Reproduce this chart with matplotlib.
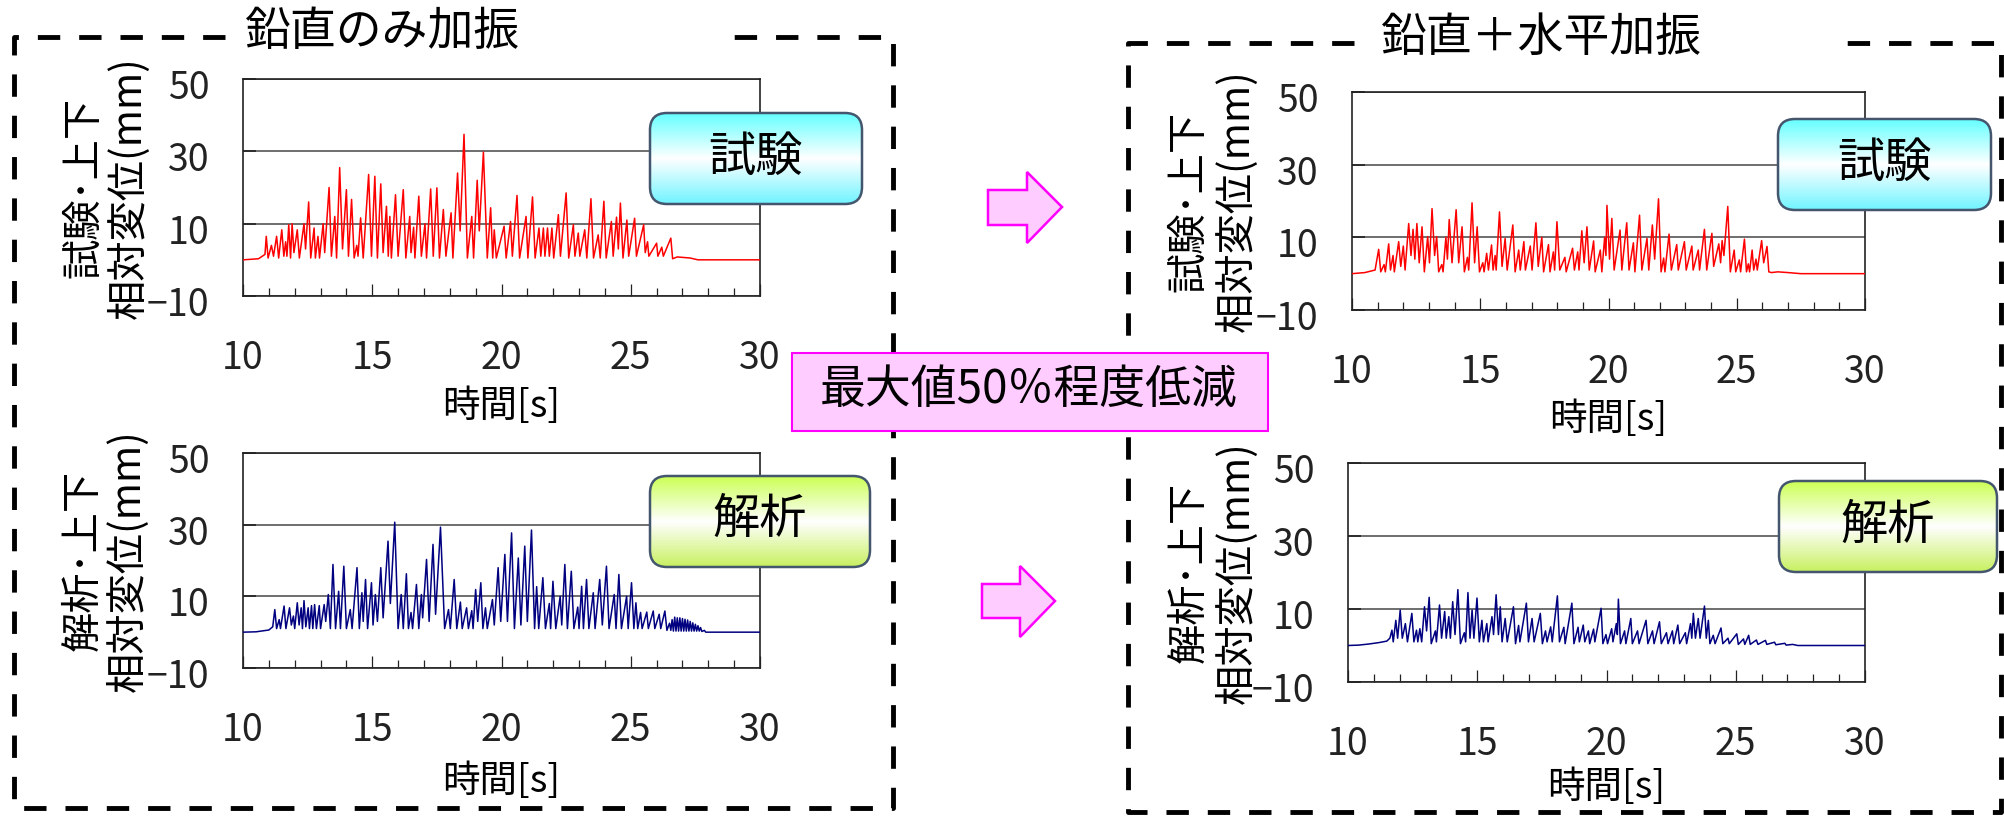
"""
Vertical displacement time histories: vertical-only vs vertical+horizontal
shaking, test (red) and analysis (navy), laid out as a 2x2 slide figure.
"""

import numpy as np
import matplotlib
matplotlib.use("Agg")
import matplotlib.pyplot as plt
import matplotlib.transforms as mtransforms
from matplotlib.patches import FancyBboxPatch, Polygon, Rectangle
from matplotlib.colors import LinearSegmentedColormap

# ── Data (time [s], relative displacement [mm]) ────

lt_trace = [  # test, vertical only
    (10.0, 0.0), (10.6, 0.3), (10.85, 1.5), (10.9, 6.5), (10.97, 0.5), (11.1, 4.0),
    (11.18, 1.0), (11.3, 6.5), (11.38, 0.5), (11.5, 8.3), (11.58, 1.0), (11.65, 5.0),
    (11.7, 1.0), (11.77, 9.7), (11.84, 0.5), (11.9, 10.0), (11.97, 2.0), (12.1, 8.3),
    (12.18, 0.5), (12.36, 10.0), (12.42, 3.0), (12.54, 16.0), (12.62, 0.5), (12.75, 8.8),
    (12.8, 0.5), (12.9, 6.5), (12.96, 0.5), (13.1, 10.0), (13.16, 2.0), (13.33, 20.0),
    (13.42, 1.0), (13.55, 12.0), (13.62, 0.5), (13.74, 25.5), (13.85, 3.0), (14.0, 19.4),
    (14.08, 1.0), (14.2, 16.7), (14.3, 0.5), (14.4, 4.0), (14.45, 1.0), (14.55, 11.6),
    (14.65, 0.5), (14.86, 23.6), (14.97, 1.0), (15.1, 23.1), (15.2, 0.5), (15.33, 21.0),
    (15.42, 2.0), (15.55, 14.8), (15.62, 1.0), (15.68, 12.0), (15.74, 0.5), (15.9, 18.0),
    (16.0, 1.0), (16.2, 19.4), (16.3, 0.5), (16.45, 12.0), (16.5, 2.0), (16.6, 9.0),
    (16.65, 0.5), (16.8, 17.6), (16.9, 1.0), (17.04, 10.0), (17.1, 0.5), (17.26, 19.6),
    (17.36, 1.0), (17.5, 19.9), (17.6, 0.5), (17.75, 13.9), (17.85, 1.0), (18.05, 13.0),
    (18.12, 0.5), (18.3, 24.0), (18.4, 8.0), (18.55, 34.7), (18.68, 0.5), (18.85, 12.0),
    (18.92, 0.5), (19.06, 22.0), (19.14, 8.0), (19.3, 29.8), (19.45, 0.5), (19.58, 14.4),
    (19.66, 0.5), (19.72, 8.3), (19.8, 0.5), (20.1, 9.3), (20.18, 0.5), (20.35, 10.6),
    (20.42, 1.0), (20.6, 17.8), (20.7, 0.5), (20.95, 12.0), (21.02, 0.5), (21.2, 17.4),
    (21.3, 0.5), (21.45, 8.8), (21.52, 1.0), (21.62, 8.8), (21.68, 1.0), (21.78, 8.8),
    (21.85, 1.0), (21.95, 8.8), (22.02, 0.5), (22.2, 12.5), (22.28, 1.0), (22.5, 18.5),
    (22.6, 0.5), (22.78, 9.7), (22.84, 1.0), (22.97, 7.4), (23.03, 1.0), (23.22, 8.3),
    (23.3, 0.5), (23.46, 16.9), (23.56, 0.5), (23.74, 6.9), (23.82, 0.5), (23.96, 16.2),
    (24.05, 0.5), (24.25, 10.6), (24.32, 1.0), (24.45, 11.8), (24.52, 3.0), (24.6, 15.7),
    (24.7, 0.5), (24.85, 11.0), (24.92, 1.0), (25.15, 11.5), (25.22, 1.0), (25.5, 9.7),
    (25.56, 2.0), (25.65, 5.0), (25.7, 1.0), (26.0, 4.6), (26.05, 1.0), (26.2, 3.5),
    (26.26, 1.0), (26.55, 6.0), (26.62, 0.3), (26.8, 0.8), (27.3, 0.5), (27.6, 0.0),
    (30.0, 0.0),
]

lb_trace = [  # analysis, vertical only
    (10.0, 0.0), (10.5, 0.1), (11.0, 0.6), (11.15, 1.5), (11.23, 6.3), (11.3, 1.0),
    (11.4, 3.5), (11.45, 1.0), (11.59, 7.3), (11.66, 1.0), (11.8, 6.8), (11.87, 2.0),
    (11.95, 4.5), (12.0, 1.0), (12.1, 8.2), (12.17, 2.0), (12.25, 6.8), (12.3, 1.0),
    (12.36, 8.8), (12.43, 1.5), (12.52, 6.8), (12.57, 1.0), (12.65, 7.4), (12.7, 1.0),
    (12.77, 7.7), (12.84, 1.0), (12.95, 7.4), (13.0, 1.0), (13.14, 7.7), (13.2, 3.0),
    (13.3, 10.5), (13.38, 1.0), (13.48, 18.9), (13.58, 1.0), (13.7, 11.4), (13.77, 1.0),
    (13.9, 18.4), (14.0, 1.0), (14.15, 6.3), (14.22, 1.0), (14.41, 18.0), (14.5, 1.0),
    (14.6, 11.0), (14.65, 3.0), (14.74, 14.7), (14.82, 1.0), (14.97, 13.8), (15.03, 2.0),
    (15.12, 10.5), (15.2, 3.0), (15.33, 18.0), (15.42, 4.0), (15.61, 25.4), (15.7, 8.0),
    (15.87, 30.7), (16.0, 1.0), (16.12, 10.5), (16.2, 1.0), (16.32, 16.3), (16.4, 1.0),
    (16.5, 5.5), (16.56, 1.0), (16.71, 13.3), (16.8, 1.0), (16.9, 10.5), (16.95, 4.0),
    (17.1, 20.3), (17.2, 3.0), (17.35, 24.5), (17.45, 5.0), (17.64, 29.3), (17.8, 1.0),
    (17.95, 6.3), (18.02, 1.0), (18.17, 14.7), (18.27, 1.0), (18.41, 8.4), (18.48, 1.0),
    (18.65, 6.8), (18.72, 1.0), (18.85, 6.0), (18.9, 1.0), (19.0, 11.9), (19.08, 3.0),
    (19.2, 13.8), (19.28, 1.0), (19.38, 6.8), (19.45, 1.0), (19.65, 9.1), (19.72, 2.0),
    (19.87, 18.0), (19.97, 3.0), (20.13, 21.7), (20.23, 3.0), (20.39, 27.7), (20.5, 1.0),
    (20.65, 20.7), (20.75, 2.0), (20.9, 24.0), (21.0, 3.0), (21.16, 28.5), (21.28, 1.0),
    (21.36, 12.7), (21.44, 1.0), (21.6, 15.2), (21.7, 1.0), (21.85, 8.0), (21.9, 1.0),
    (21.99, 14.2), (22.1, 1.0), (22.27, 10.0), (22.33, 2.0), (22.45, 18.9), (22.55, 1.0),
    (22.7, 17.0), (22.8, 1.0), (22.95, 7.0), (23.0, 1.0), (23.1, 12.8), (23.17, 1.0),
    (23.29, 14.7), (23.38, 1.0), (23.55, 11.0), (23.62, 1.0), (23.8, 14.7), (23.9, 2.0),
    (24.06, 18.4), (24.16, 1.0), (24.36, 10.5), (24.43, 1.0), (24.54, 16.1), (24.64, 1.0),
    (24.84, 10.0), (24.9, 1.0), (25.03, 13.8), (25.12, 1.0), (25.2, 8.2), (25.27, 1.0),
    (25.38, 5.5), (25.44, 1.0), (25.62, 5.6), (25.68, 1.0), (25.87, 5.9), (25.93, 1.0),
    (26.1, 5.0), (26.16, 1.0), (26.32, 5.9), (26.4, 0.5), (26.5, 2.5), (26.55, 0.5),
    (26.6, 3.5), (26.65, 0.3), (26.7, 4.2), (26.75, 0.3), (26.8, 4.0), (26.85, 0.3),
    (26.9, 4.0), (26.95, 0.3), (27.0, 3.8), (27.05, 0.3), (27.1, 3.6), (27.15, 0.3),
    (27.2, 3.4), (27.25, 0.3), (27.3, 3.0), (27.35, 0.3), (27.4, 2.6), (27.45, 0.3),
    (27.5, 2.2), (27.55, 0.3), (27.6, 1.8), (27.65, 0.3), (27.7, 1.3), (27.75, 0.2),
    (27.85, 0.5), (27.9, 0.0), (30.0, 0.0),
]

rt_trace = [  # test, vertical + horizontal
    (10.0, 0.0), (10.5, 0.3), (10.9, 1.0), (11.04, 6.7), (11.12, 0.5), (11.25, 2.5),
    (11.3, 0.5), (11.43, 8.2), (11.5, 1.0), (11.6, 5.0), (11.65, 0.5), (11.82, 8.8),
    (11.9, 2.0), (12.0, 7.6), (12.07, 1.0), (12.21, 13.8), (12.3, 5.0), (12.38, 12.2),
    (12.45, 4.0), (12.53, 13.8), (12.62, 3.0), (12.73, 12.9), (12.82, 0.5), (12.95, 10.2),
    (13.02, 3.0), (13.12, 17.9), (13.22, 5.0), (13.3, 10.2), (13.38, 0.5), (13.5, 2.5),
    (13.55, 0.5), (13.66, 10.0), (13.72, 4.0), (13.79, 14.9), (13.9, 3.0), (14.06, 17.6),
    (14.16, 3.0), (14.29, 12.9), (14.38, 0.5), (14.5, 4.5), (14.55, 1.0), (14.68, 19.5),
    (14.78, 3.0), (14.88, 12.9), (14.97, 0.5), (15.1, 3.0), (15.15, 0.5), (15.25, 5.6),
    (15.32, 1.0), (15.44, 7.9), (15.5, 1.0), (15.58, 5.0), (15.62, 1.0), (15.75, 17.0),
    (15.85, 2.0), (15.97, 9.7), (16.05, 1.0), (16.27, 13.4), (16.36, 0.5), (16.5, 6.5),
    (16.56, 1.0), (16.7, 8.8), (16.76, 1.0), (16.95, 7.6), (17.02, 1.0), (17.17, 14.0),
    (17.26, 2.0), (17.4, 10.0), (17.47, 0.5), (17.66, 8.0), (17.72, 0.5), (17.85, 6.0),
    (17.9, 1.0), (17.99, 14.3), (18.1, 1.0), (18.3, 4.5), (18.35, 0.5), (18.6, 7.0),
    (18.67, 1.0), (18.8, 6.0), (18.85, 1.0), (18.96, 11.8), (19.05, 3.0), (19.16, 12.9),
    (19.25, 1.0), (19.42, 9.0), (19.48, 0.5), (19.68, 6.5), (19.74, 0.5), (19.85, 10.0),
    (19.9, 5.0), (19.94, 18.8), (20.04, 4.0), (20.13, 15.2), (20.22, 1.0), (20.45, 12.0),
    (20.52, 1.0), (20.71, 14.0), (20.8, 1.0), (20.97, 8.5), (21.03, 0.5), (21.21, 16.1),
    (21.3, 1.0), (21.5, 9.7), (21.57, 1.0), (21.71, 13.4), (21.8, 4.0), (21.95, 20.6),
    (22.05, 0.5), (22.15, 4.3), (22.2, 0.5), (22.36, 10.9), (22.45, 1.0), (22.66, 8.0),
    (22.72, 1.0), (22.96, 8.8), (23.03, 1.0), (23.25, 7.6), (23.3, 1.0), (23.5, 6.5),
    (23.55, 1.0), (23.74, 12.2), (23.83, 1.0), (24.03, 11.1), (24.1, 2.0), (24.3, 8.2),
    (24.37, 3.0), (24.43, 9.1), (24.5, 5.0), (24.65, 18.5), (24.75, 0.5), (24.9, 6.5),
    (24.96, 0.5), (25.1, 3.8), (25.15, 0.5), (25.3, 9.5), (25.38, 0.5), (25.45, 2.7),
    (25.5, 0.5), (25.6, 6.5), (25.66, 1.0), (25.75, 4.0), (25.8, 1.0), (25.97, 9.1),
    (26.05, 3.0), (26.18, 7.5), (26.25, 0.5), (26.35, 0.3), (26.6, 0.5), (27.0, 0.3),
    (27.5, 0.0), (30.0, 0.0),
]

rb_trace = [  # analysis, vertical + horizontal
    (10.0, 0.0), (10.4, 0.1), (10.8, 0.4), (11.2, 0.8), (11.5, 1.2), (11.62, 2.0),
    (11.7, 4.2), (11.75, 1.0), (11.85, 6.9), (11.92, 2.0), (12.02, 9.7), (12.1, 2.0),
    (12.22, 6.0), (12.3, 1.0), (12.47, 8.8), (12.55, 1.0), (12.65, 4.2), (12.7, 1.0),
    (12.78, 4.6), (12.85, 1.0), (12.96, 10.6), (13.04, 4.0), (13.14, 13.2), (13.22, 0.5),
    (13.38, 4.0), (13.42, 1.0), (13.54, 11.1), (13.62, 2.0), (13.74, 9.3), (13.8, 2.0),
    (13.9, 7.9), (13.96, 2.0), (14.05, 12.0), (14.14, 3.0), (14.25, 15.3), (14.35, 0.5),
    (14.5, 3.5), (14.55, 1.0), (14.64, 14.5), (14.72, 2.0), (14.8, 9.7), (14.87, 2.0),
    (14.99, 13.0), (15.08, 1.0), (15.18, 6.9), (15.24, 1.0), (15.37, 6.0), (15.42, 1.0),
    (15.57, 7.9), (15.63, 3.0), (15.73, 13.9), (15.82, 3.0), (15.89, 10.6), (15.96, 1.0),
    (16.08, 7.4), (16.16, 1.0), (16.4, 10.6), (16.48, 0.5), (16.6, 5.5), (16.65, 1.0),
    (16.9, 11.6), (16.98, 1.0), (17.12, 7.4), (17.2, 1.0), (17.44, 8.8), (17.52, 0.5),
    (17.64, 4.0), (17.7, 1.0), (17.84, 5.1), (17.9, 1.0), (18.1, 13.6), (18.18, 1.0),
    (18.35, 5.0), (18.4, 0.5), (18.66, 11.6), (18.74, 0.5), (18.9, 5.0), (18.95, 1.0),
    (19.1, 5.6), (19.16, 1.0), (19.3, 4.0), (19.35, 0.5), (19.5, 4.5), (19.55, 1.0),
    (19.79, 10.2), (19.86, 0.5), (19.98, 3.0), (20.04, 0.5), (20.2, 4.6), (20.25, 1.0),
    (20.38, 6.0), (20.42, 3.0), (20.46, 12.7), (20.54, 0.5), (20.7, 4.0), (20.75, 0.5),
    (20.94, 7.4), (21.0, 0.5), (21.2, 4.0), (21.26, 0.5), (21.53, 6.9), (21.6, 0.5),
    (21.78, 4.0), (21.84, 0.5), (22.05, 6.5), (22.12, 0.5), (22.32, 3.5), (22.38, 0.5),
    (22.55, 4.0), (22.6, 0.5), (22.76, 5.6), (22.83, 0.5), (23.05, 3.5), (23.1, 0.5),
    (23.25, 6.0), (23.3, 2.0), (23.36, 8.8), (23.44, 2.0), (23.55, 7.4), (23.62, 2.0),
    (23.79, 10.8), (23.86, 2.0), (23.94, 6.9), (24.0, 0.5), (24.13, 2.8), (24.2, 0.5),
    (24.43, 4.8), (24.5, 0.5), (24.7, 2.0), (24.75, 0.5), (25.04, 3.2), (25.1, 0.3),
    (25.3, 1.8), (25.35, 0.3), (25.5, 2.8), (25.56, 0.3), (25.8, 1.5), (25.86, 0.3),
    (26.15, 1.4), (26.2, 0.3), (26.5, 0.9), (26.55, 0.2), (26.9, 0.6), (26.95, 0.1),
    (27.2, 0.3), (27.4, 0.0), (30.0, 0.0),
]

x_major = [10, 15, 20, 25, 30]
x_minor = list(range(10, 31))
y_ticks = [-10, 10, 30, 50]
y_ticklabels = ["\u221210", "10", "30", "50"]

titles = ["鉛直のみ加振", "鉛直＋水平加振"]
ylabel_test = ["試験･上下", "相対変位(mm)"]
ylabel_anal = ["解析･上下", "相対変位(mm)"]
xlabel = "時間[s]"
tag_test = "試験"
tag_anal = "解析"
note = "最大値50％程度低減"

# ── Figure / style ─────────────────────────────────────────────────────────

W, H = 2004, 817
JP = ["Noto Sans CJK JP", "DejaVu Sans"]
NUM = ["Liberation Sans Narrow", "Noto Sans CJK JP", "DejaVu Sans"]
RED = "#ff0000"
NAVY = "#000080"

fig = plt.figure(figsize=(W / 100, H / 100), dpi=100)
fig.patch.set_facecolor("white")


def frac(x0, y0, x1, y1):
    """pixel box (top-left origin) -> figure fraction rect"""
    return [x0 / W, 1 - y1 / H, (x1 - x0) / W, (y1 - y0) / H]


def draw_panel(box, trace, color, xlabel_y):
    ax = fig.add_axes(frac(*box))
    t, d = zip(*trace)
    ax.plot(t, d, color=color, lw=1.1, zorder=3)
    ax.set_xlim(10, 30)
    ax.set_ylim(-10, 50)
    ax.set_xticks(x_major)
    ax.set_xticks(x_minor, minor=True)
    ax.set_xticklabels([str(v) for v in x_major], fontfamily=NUM, fontsize=27)
    ax.set_yticks(y_ticks)
    ax.set_yticklabels(y_ticklabels, fontfamily=NUM, fontsize=27)
    ax.tick_params(axis="x", which="major", direction="in", length=8.5,
                   width=0.9, pad=31, colors="#222222")
    ax.tick_params(axis="x", which="minor", direction="in", length=5.5,
                   width=0.9, colors="#222222")
    ax.tick_params(axis="y", which="major", direction="in", length=9,
                   width=1.2, pad=24, colors="#222222")
    ax.yaxis.grid(True, color="#555555", lw=1.2)
    ax.set_axisbelow(True)
    for sp in ax.spines.values():
        sp.set_color("#222222")
        sp.set_linewidth(1.2)
    off = mtransforms.ScaledTranslation(0, -5 / 100, fig.dpi_scale_trans)
    for lab in ax.get_yticklabels():
        lab.set_transform(lab.get_transform() + off)
    # x label placed in pixels
    ax_o.text((box[0] + box[2]) / 2, xlabel_y, xlabel, ha="center", va="center",
              fontsize=27, family=JP, zorder=6)
    return ax


# overlay axes in pixel coordinates (y down) for shapes and free text
ax_o = fig.add_axes([0, 0, 1, 1], zorder=5)
ax_o.patch.set_alpha(0)

# ── Dashed group frames ────────────────────────────────────────────────────
frame_kw = dict(color="black", lw=3.5, dashes=(4.6, 3.9), solid_capstyle="butt",
                zorder=1)
ax_o.plot([225, 14, 14, 893, 893, 729], [37, 37, 808, 808, 37, 37], **frame_kw)
ax_o.plot([1354, 1128, 1128, 2001, 2001, 1841], [43, 43, 812, 812, 43, 43], **frame_kw)

ax_o.text(383, 32, titles[0], ha="center", va="center", fontsize=33, family=JP)
ax_o.text(1542, 38, titles[1], ha="center", va="center", fontsize=33, family=JP)

# ── Panels ─────────────────────────────────────────────────────────────────
panels = [
    ((243, 79, 760, 296), lt_trace, RED, 406, ylabel_test, (84, 129)),
    ((243, 453, 760, 668), lb_trace, NAVY, 781, ylabel_anal, (83, 128)),
    ((1352, 92, 1865, 310), rt_trace, RED, 419, ylabel_test, (1189, 1237)),
    ((1348, 463, 1865, 682), rb_trace, NAVY, 788, ylabel_anal, (1189, 1237)),
]
for box, trace, color, xly, ylab, ylx in panels:
    draw_panel(box, trace, color, xly)
    yc = (box[1] + box[3]) / 2
    for line, lx in zip(ylab, ylx):
        ax_o.text(lx, yc, line, rotation=90, ha="center", va="center",
                  fontsize=29, family=JP, zorder=6)


# ── Gradient tag boxes ─────────────────────────────────────────────────────
def tag_box(x0, y0, x1, y1, c_top, c_bot, text, tx, ty):
    patch = FancyBboxPatch((x0, y0), x1 - x0, y1 - y0,
                           boxstyle="round,pad=0,rounding_size=17",
                           fc="none", ec="#44566e", lw=1.8, zorder=8)
    ax_o.add_patch(patch)
    cmap = LinearSegmentedColormap.from_list(
        "g", [(0, c_top), (0.5, "#ffffff"), (1, c_bot)])
    grad = np.linspace(0, 1, 200).reshape(-1, 1)
    im = ax_o.imshow(grad, extent=(x0, x1, y1, y0), cmap=cmap, aspect="auto",
                     zorder=7, interpolation="bilinear")
    im.set_clip_path(patch)
    ax_o.text(tx, ty, text, ha="center", va="center", fontsize=34, family=JP,
              zorder=9)


CYAN_T, CYAN_B = "#66ffff", "#70f4ff"
LIME_T, LIME_B = "#ccff55", "#c8f060"
tag_box(650, 113, 862, 204, CYAN_T, CYAN_B, tag_test, 756, 158)
tag_box(1778, 119, 1991, 210, CYAN_T, CYAN_B, tag_test, 1885, 164)
tag_box(650, 476, 870, 567, LIME_T, LIME_B, tag_anal, 760, 520)
tag_box(1779, 481, 1997, 572, LIME_T, LIME_B, tag_anal, 1888, 526)

# ── Arrows and note ────────────────────────────────────────────────────────
arrow_kw = dict(closed=True, fc="#ffccff", ec="#ff00ff", lw=1.8, zorder=8)
ax_o.add_patch(Polygon([(988, 190), (1027, 190), (1027, 172), (1062, 207),
                        (1027, 243), (1027, 225), (988, 225)], **arrow_kw))
ax_o.add_patch(Polygon([(982, 584), (1020, 584), (1020, 566), (1055, 601),
                        (1020, 637), (1020, 618), (982, 618)], **arrow_kw))

ax_o.add_patch(Rectangle((792, 353), 476, 78, fc="#ffccff", ec="#ff00ff",
                         lw=1.5, zorder=8))
ax_o.text(1029, 390, note, ha="center", va="center", fontsize=33, family=JP,
          zorder=9)

ax_o.set_xlim(0, W)
ax_o.set_ylim(H, 0)
ax_o.axis("off")

fig.savefig("out.png", dpi=100, facecolor="white")
